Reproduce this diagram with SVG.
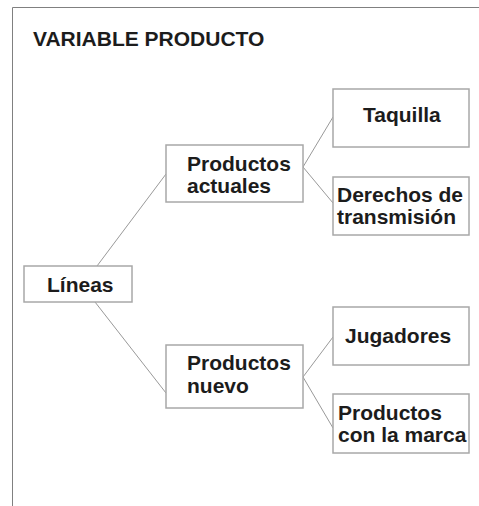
<svg xmlns="http://www.w3.org/2000/svg" width="479" height="506" viewBox="0 0 479 506">
<style>
.bx{fill:#fff;stroke:#a8a8a8;stroke-width:1.5}
.t{font-family:"Liberation Sans",Arial,sans-serif;font-weight:bold;font-size:21px;fill:#1c1c1c}
.c{stroke:#999;stroke-width:1;fill:none}
.f{stroke:#808080;stroke-width:1;fill:none}
</style>
<rect width="479" height="506" fill="#fff"/>
<path class="f" d="M12.5,506 V7.5 H479"/>
<text class="t" x="33" y="46">VARIABLE PRODUCTO</text>
<g id="connectors">
<line class="c" x1="97" y1="266" x2="166" y2="174"/>
<line class="c" x1="95" y1="302" x2="166" y2="393"/>
<line class="c" x1="303" y1="167" x2="333" y2="117"/>
<line class="c" x1="303" y1="167" x2="333" y2="203"/>
<line class="c" x1="303" y1="377" x2="333" y2="337"/>
<line class="c" x1="303" y1="377" x2="333" y2="428"/>
</g>
<g id="lineas">
<rect class="bx" x="24" y="266" width="108" height="36"/>
<text class="t" x="47" y="292">Líneas</text>
</g>
<g id="productos-actuales">
<rect class="bx" x="166" y="145" width="137" height="57"/>
<text class="t" x="187" y="171">Productos</text>
<text class="t" x="187" y="193">actuales</text>
</g>
<g id="productos-nuevo">
<rect class="bx" x="166" y="345" width="137" height="63"/>
<text class="t" x="187" y="370">Productos</text>
<text class="t" x="187" y="393">nuevo</text>
</g>
<g id="taquilla">
<rect class="bx" x="333" y="89" width="136" height="58"/>
<text class="t" x="363" y="122">Taquilla</text>
</g>
<g id="derechos">
<rect class="bx" x="333" y="177" width="136" height="58"/>
<text class="t" x="337" y="202">Derechos de</text>
<text class="t" x="337" y="224">transmisión</text>
</g>
<g id="jugadores">
<rect class="bx" x="333" y="307" width="136" height="58"/>
<text class="t" x="345" y="343">Jugadores</text>
</g>
<g id="productos-marca">
<rect class="bx" x="333" y="394" width="136" height="59"/>
<text class="t" x="338" y="420">Productos</text>
<text class="t" x="338" y="442">con la marca</text>
</g>
</svg>
